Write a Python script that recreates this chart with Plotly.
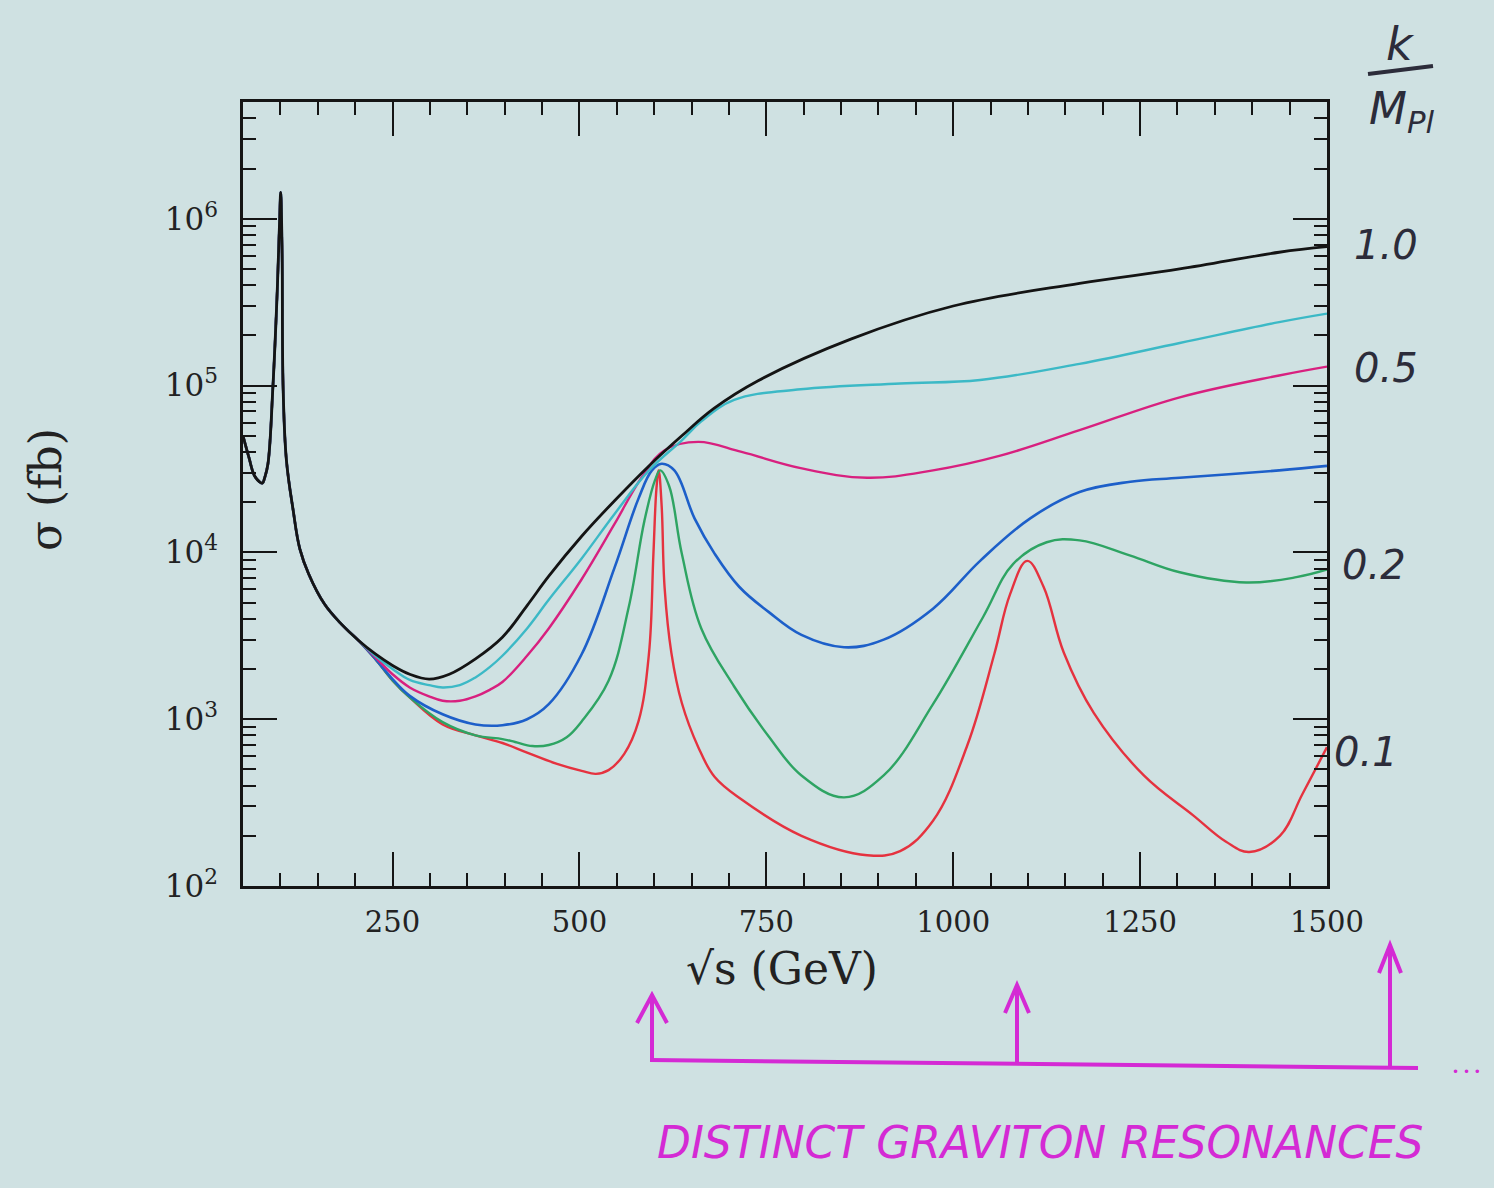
import plotly.graph_objects as go

# ---------------- data ----------------
# Z-pole region, identical for every curve
x_common = [50, 58, 65, 72, 76, 79, 83.4, 90, 96, 99, 100.4, 102.3, 103.6, 108, 117, 126, 138, 159, 182, 205]
y_common = [5.0e4, 3.7e4, 2.9e4, 2.65e4, 2.6e4, 2.8e4, 3.4e4, 9.8e4, 3.9e5, 9.8e5, 1.44e6, 6.2e5, 1.0e5,
            3.6e4, 1.8e4, 1.05e4, 7.4e3, 4.9e3, 3.7e3, 2.95e3]

# black (k/MPl = 1.0)
x_black = [227, 250, 273, 299, 326, 361, 397, 430, 459, 503, 547, 593, 637, 680, 739, 863, 1000, 1169, 1303, 1436, 1500]
y_black = [2.46e3, 2.1e3, 1.86e3, 1.74e3, 1.86e3, 2.3e3, 3.1e3, 4.8e3, 7.2e3, 1.25e4, 2.04e4, 3.3e4, 5.0e4,
           7.3e4, 1.07e5, 1.9e5, 3.0e5, 4.1e5, 5.0e5, 6.3e5, 6.8e5]

# cyan (k/MPl = 0.5)
x_cyan = [227, 250, 273, 299, 317, 340, 361, 380, 397, 430, 459, 503, 547, 593, 637, 663, 707, 796, 929, 1036,
          1169, 1303, 1436, 1500]
y_cyan = [2.4e3, 2.0e3, 1.72e3, 1.6e3, 1.55e3, 1.6e3, 1.78e3, 2.05e3, 2.4e3, 3.5e3, 5.2e3, 9.2e3, 1.7e4, 3.1e4,
          4.7e4, 6.1e4, 8.2e4, 9.5e4, 1.03e5, 1.08e5, 1.35e5, 1.8e5, 2.4e5, 2.7e5]

# magenta
x_magenta = [227, 250, 273, 299, 317, 340, 361, 380, 397, 430, 459, 503, 547, 583, 614, 659, 717, 796, 885, 973,
             1063, 1169, 1303, 1436, 1500]
y_magenta = [2.35e3, 1.86e3, 1.55e3, 1.37e3, 1.29e3, 1.29e3, 1.37e3, 1.5e3, 1.67e3, 2.4e3, 3.5e3, 6.9e3, 1.48e4,
             2.8e4, 4.1e4, 4.6e4, 4.0e4, 3.2e4, 2.8e4, 3.1e4, 3.8e4, 5.4e4, 8.5e4, 1.15e5, 1.3e5]

# blue
x_blue = [227, 250, 273, 317, 361, 397, 430, 459, 503, 547, 579, 597, 610, 627, 654, 681, 714, 753, 797, 854, 907,
          973, 1036, 1103, 1169, 1237, 1303, 1436, 1500]
y_blue = [2.3e3, 1.74e3, 1.38e3, 1.07e3, 9.3e2, 9.2e2, 1.0e3, 1.23e3, 2.45e3, 8.1e3, 2.1e4, 3.1e4, 3.4e4, 3.1e4,
          1.6e4, 9.8e3, 6.2e3, 4.4e3, 3.2e3, 2.7e3, 3.0e3, 4.6e3, 8.9e3, 1.6e4, 2.3e4, 2.65e4, 2.8e4, 3.1e4, 3.3e4]

# green (k/MPl = 0.2)
x_green = [227, 250, 273, 317, 361, 397, 414, 437, 459, 483, 503, 539, 566, 587, 601, 608, 620, 637, 663, 707, 753,
           797, 854, 907, 973, 1040, 1080, 1125, 1169, 1236, 1303, 1392, 1459, 1500]
y_green = [2.3e3, 1.71e3, 1.35e3, 9.6e2, 8.0e2, 7.6e2, 7.3e2, 6.9e2, 7.0e2, 7.8e2, 9.7e2, 1.7e3, 4.7e3, 1.55e4,
           2.7e4, 3.1e4, 2.5e4, 9.8e3, 3.5e3, 1.57e3, 7.9e2, 4.6e2, 3.4e2, 4.6e2, 1.23e3, 4.1e3, 8.5e3, 1.15e4,
           1.18e4, 9.6e3, 7.6e3, 6.6e3, 7.1e3, 7.9e3]

# red (k/MPl = 0.1)
x_red = [227, 250, 273, 317, 361, 397, 430, 470, 503, 522, 539, 560, 579, 593, 599, 603, 606, 610, 614, 623, 637,
         659, 681, 717, 797, 885, 929, 973, 1019, 1055, 1076, 1099, 1121, 1148, 1188, 1255, 1321, 1365, 1396,
         1437, 1467, 1500]
y_red = [2.3e3, 1.71e3, 1.35e3, 9.3e2, 8.0e2, 7.2e2, 6.3e2, 5.4e2, 4.9e2, 4.7e2, 4.95e2, 6.2e2, 9.7e2, 2.47e3,
         9.8e3, 2.4e4, 3.1e4, 1.9e4, 6.1e3, 2.5e3, 1.25e3, 6.8e2, 4.5e2, 3.3e2, 2.0e2, 1.53e2, 1.62e2, 2.46e2,
         7.0e2, 2.46e3, 5.6e3, 8.9e3, 6.2e3, 2.5e3, 1.09e3, 4.6e2, 2.65e2, 1.84e2, 1.6e2, 2.0e2, 3.55e2,
         6.8e2]

# axis ticks
x_tick_vals = [250, 500, 750, 1000, 1250, 1500]
x_tick_text = ["250", "500", "750", "1000", "1250", "1500"]
x_minor_vals = [v for v in range(50, 1501, 50) if v not in x_tick_vals]
y_tick_vals = [1e2, 1e3, 1e4, 1e5, 1e6]
y_tick_text = ["10<sup>2</sup>", "10<sup>3</sup>", "10<sup>4</sup>", "10<sup>5</sup>", "10<sup>6</sup>"]
y_minor_vals = [m * 10 ** e for e in range(2, 7) for m in range(2, 10) if m * 10 ** e <= 5e6]

# hand-written annotation texts
coupling_labels = ["1.0", "0.5", "0.2", "0.1"]
note_text = "DISTINCT GRAVITON RESONANCES"

# ---------------- styling ----------------
BG = "#cfe1e2"
INK = "#151515"
MAG = "#d42ad4"
PEN = "#2c2c3a"
SERIF = "DejaVu Serif"

series = [
    (x_red, y_red, "#e5323f", 2.4),
    (x_green, y_green, "#2ea463", 2.4),
    (x_blue, y_blue, "#1d5fc9", 2.6),
    (x_magenta, y_magenta, "#d8207f", 2.4),
    (x_cyan, y_cyan, "#3cb9c6", 2.4),
    (x_black, y_black, "#141414", 2.8),
]

fig = go.Figure()
for xs, ys, col, w in series:
    fig.add_trace(go.Scatter(
        x=x_common + xs, y=y_common + ys, mode="lines",
        line=dict(color=col, width=w, shape="spline", smoothing=1.1),
        showlegend=False, hoverinfo="skip"))

# plot-area geometry (pixels) used only to place decorations
L, T, W, H = 243, 102, 1084, 784
FIG_W, FIG_H = 1494, 1188


def px(xp):
    return (xp - L) / W


def py(yp):
    return (T + H - yp) / H


axis_common = dict(
    ticks="inside", ticklen=34, tickwidth=2, tickcolor=INK,
    showline=True, linecolor=INK, linewidth=2.5, mirror="allticks",
    showgrid=False, zeroline=False,
)

fig.update_xaxes(
    range=[50, 1500], tickmode="array", tickvals=x_tick_vals, ticktext=x_tick_text,
    ticklabelstandoff=8, tickfont=dict(family=SERIF, size=29, color="#222222"),
    minor=dict(tickmode="array", tickvals=x_minor_vals, ticks="inside", ticklen=13,
               tickwidth=2, tickcolor=INK, showgrid=False),
    **axis_common)
fig.update_yaxes(
    type="log", range=[2, 6.70], tickmode="array", tickvals=y_tick_vals, ticktext=y_tick_text,
    ticklabelstandoff=16, tickfont=dict(family=SERIF, size=31, color="#222222"),
    minor=dict(tickmode="array", tickvals=y_minor_vals, ticks="inside", ticklen=13,
               tickwidth=2, tickcolor=INK, showgrid=False),
    **axis_common)

annotations = [
    dict(text="σ (fb)", x=px(45), y=py(490), textangle=-90,
         font=dict(family=SERIF, size=44, color="#222222")),
    dict(text="√s (GeV)", x=px(782), y=py(968),
         font=dict(family=SERIF, size=44, color="#222222")),
    dict(text="<i>k</i>", x=px(1400), y=py(44), font=dict(family="DejaVu Sans", size=46, color=PEN)),
    dict(text="<i>M<sub>Pl</sub></i>", x=px(1402), y=py(112), font=dict(family="DejaVu Sans", size=44, color=PEN)),
    dict(text=f"<i>{coupling_labels[0]}</i>", x=px(1386), y=py(245), font=dict(family="DejaVu Sans", size=40, color=PEN)),
    dict(text=f"<i>{coupling_labels[1]}</i>", x=px(1386), y=py(368), font=dict(family="DejaVu Sans", size=40, color=PEN)),
    dict(text=f"<i>{coupling_labels[2]}</i>", x=px(1374), y=py(565), font=dict(family="DejaVu Sans", size=40, color=PEN)),
    dict(text=f"<i>{coupling_labels[3]}</i>", x=px(1366), y=py(752), font=dict(family="DejaVu Sans", size=40, color=PEN)),
    dict(text=f"<i>{note_text}</i>", x=px(1040), y=py(1142),
         font=dict(family="DejaVu Sans", size=44, color=MAG)),
    dict(text="• • •", x=px(1466), y=py(1072), font=dict(family="DejaVu Sans", size=12, color=MAG)),
]
for a in annotations:
    a.update(xref="paper", yref="paper", showarrow=False, xanchor="center", yanchor="middle")
fig.update_layout(annotations=annotations)

shapes = []
# fraction bar of k / M_Pl
shapes.append(dict(type="line", xref="paper", yref="paper", x0=px(1368), y0=py(74), x1=px(1433), y1=py(66),
                   line=dict(color=PEN, width=4)))
# magenta baseline
shapes.append(dict(type="line", xref="paper", yref="paper", x0=px(650), y0=py(1060), x1=px(1418), y1=py(1068),
                   line=dict(color=MAG, width=4)))
# magenta arrows (x pixel, tail y, head y, half-width of head)
for ax_, tail, head, hw in [(652, 1060, 995, 15), (1017, 1065, 985, 12), (1390, 1068, 945, 11)]:
    shapes.append(dict(type="line", xref="paper", yref="paper", x0=px(ax_), y0=py(tail), x1=px(ax_), y1=py(head),
                       line=dict(color=MAG, width=4)))
    path = (f"M {px(ax_ - hw)},{py(head + 28)} L {px(ax_)},{py(head)} L {px(ax_ + hw)},{py(head + 28)}")
    shapes.append(dict(type="path", xref="paper", yref="paper", path=path, line=dict(color=MAG, width=4)))
fig.update_layout(shapes=shapes)

fig.update_layout(
    width=FIG_W, height=FIG_H,
    margin=dict(l=L, r=FIG_W - L - W, t=T, b=FIG_H - T - H, pad=0),
    paper_bgcolor=BG, plot_bgcolor=BG,
    showlegend=False,
)

fig.write_html("out.html", config={"displayModeBar": False},
               post_script="document.body.style.margin='0px';document.body.style.overflow='hidden';")
